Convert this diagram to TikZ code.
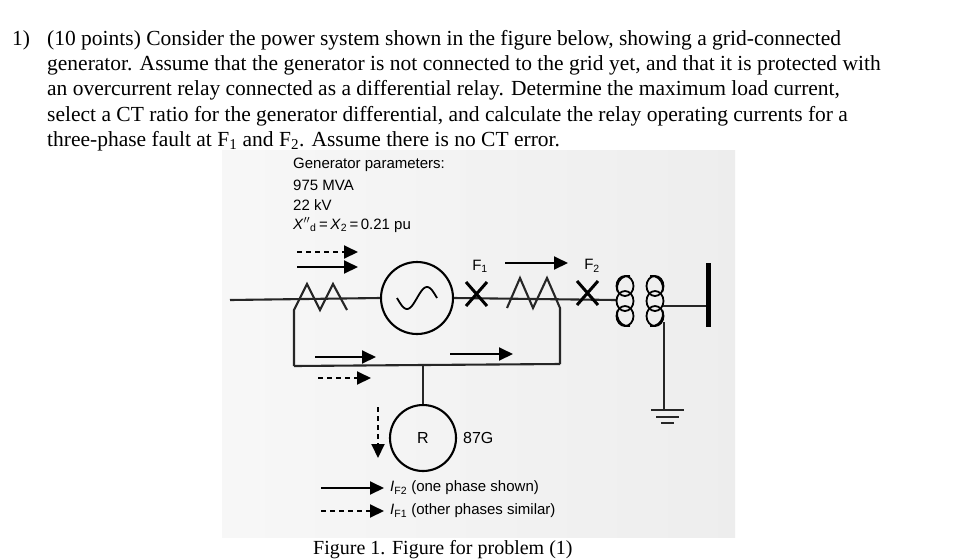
\documentclass[tikz,border=0pt]{standalone}
\usepackage{fontspec}
\setmainfont{Liberation Serif}
\newfontfamily\sff{Liberation Sans}
\usetikzlibrary{arrows.meta}
\begin{document}
\begin{tikzpicture}[x=1pt,y=-1pt,
  wire/.style={line width=2.1pt,black!85},
  cur/.style={line width=1.9pt,-{Triangle[length=14pt,width=13pt]}},
  dcur/.style={cur,dash pattern=on 5pt off 4pt},
  qtext/.style={anchor=base west,inner sep=0pt,font=\fontsize{21.5}{24}\selectfont},
  lab/.style={inner sep=0pt,font=\sff\fontsize{15}{17}\selectfont},
  coil/.style={line width=1.8pt},
  cross/.style={line width=3pt}]
\useasboundingbox (0,0) rectangle (966,558);
\fill[white] (0,0) rectangle (966,558);
% photo background
\shade[left color=gray!6,right color=gray!14] (222,150) rectangle (735,537);
% question text
\node[qtext] (q0) at (12,45) {1)};
\node[qtext] (q1) at (47,45) {(10 points) Consider the power system shown in the figure below, showing a grid-connected};
\node[qtext] (q2) at (47,70) {generator. Assume that the generator is not connected to the grid yet, and that it is protected with};
\node[qtext] (q3) at (47,95) {an overcurrent relay connected as a differential relay. Determine the maximum load current,};
\node[qtext] (q4) at (47,121) {select a CT ratio for the generator differential, and calculate the relay operating currents for a};
\node[qtext] (q5) at (47,146) {three-phase fault at F\textsubscript{1} and F\textsubscript{2}. Assume there is no CT error.};
% parameters
\node[lab,anchor=base west] (p1) at (293,168) {Generator parameters:};
\node[lab,anchor=base west] (p2) at (293,190) {975 MVA};
\node[lab,anchor=base west] (p3) at (293,210) {22 kV};
\node[lab,anchor=base west] (p4) at (293,229) {\textit{X}$''$\textsubscript{d}\,=\,\textit{X}\textsubscript{2}\,=\,0.21 pu};
% generator and relay
\node[circle,draw,line width=2.1pt,minimum size=72pt,inner sep=0pt] (gen) at (417,298) {};
\draw[line width=1.8pt] plot[domain=-20:20,samples=40] ({417+\x},{298-11*sin(\x*180/20)});
\node[circle,draw,line width=2.1pt,minimum size=66pt,inner sep=0pt,font=\sff\fontsize{16}{18}\selectfont] (R) at (423,438) {R};
\node[lab,anchor=west,font=\sff\fontsize{16}{18}\selectfont] (g87) at (463,438) {87G};
% main line
\coordinate (L0) at (230,300);
\coordinate (T1) at (616,300);
\draw[wire] (L0) -- (gen.west);
\draw[wire] (gen.east) -- (T1);
% CTs
\draw[wire] (294,366) -- (294,310) -- (307,284) -- (320,310) -- (333,284) -- (347,310);
\draw[wire] (507,308) -- (520,278) -- (533,308) -- (547,278) -- (560,308) -- (560,364);
\draw[wire] (294,366) -- (423,365) -- (560,364);
\draw[wire] (423,365) -- (R.north);
% faults
\draw[cross] (466,282) -- (487,306) (466,306) -- (487,282);
\draw[cross] (577,281) -- (598,305) (577,305) -- (598,281);
\node[lab] (F1) at (480,266) {F\textsubscript{1}};
\node[lab] (F2) at (592,266) {F\textsubscript{2}};
% transformer
\foreach \yy in {286,301,316}{
  \draw[coil] (625,\yy) ellipse (8.5pt and 10pt);
  \draw[coil] (655,\yy) ellipse (8.5pt and 10pt);}
\draw[coil] (630,276) arc (80:200:11pt and 12pt);
\draw[coil] (630,326) arc (280:160:11pt and 12pt);
\draw[coil] (650,276) arc (100:-20:11pt and 12pt);
\draw[coil] (650,326) arc (260:380:11pt and 12pt);
\coordinate (B) at (708,306);
\draw[wire] (663,306) -- (B);
\draw[line width=5pt] (708,263) -- (708,327);
\draw[wire] (664,322) -- (664,410);
\draw[wire] (651,410) -- (684,410) (656,417) -- (679,417) (661,423) -- (674,423);
% current arrows
\draw[dcur] (297,252) -- (358,252);
\draw[cur] (297,267) -- (358,267);
\draw[cur] (505,263) -- (568,263);
\draw[cur] (315,357) -- (376,357);
\draw[cur] (450,354) -- (513,354);
\draw[dcur] (318,378) -- (371,378);
\draw[dcur] (378,407) -- (378,458);
% legend
\draw[cur] (321,488) -- (384,488);
\draw[dcur] (321,511) -- (384,511);
\node[lab,anchor=west] (l1) at (390,488) {\textit{I}\textsubscript{F2} (one phase shown)};
\node[lab,anchor=west] (l2) at (390,511) {\textit{I}\textsubscript{F1} (other phases similar)};
% caption
\node[qtext,font=\fontsize{20}{24}\selectfont] (cap) at (313,554) {Figure 1. Figure for problem (1)};
\end{tikzpicture}
\end{document}
